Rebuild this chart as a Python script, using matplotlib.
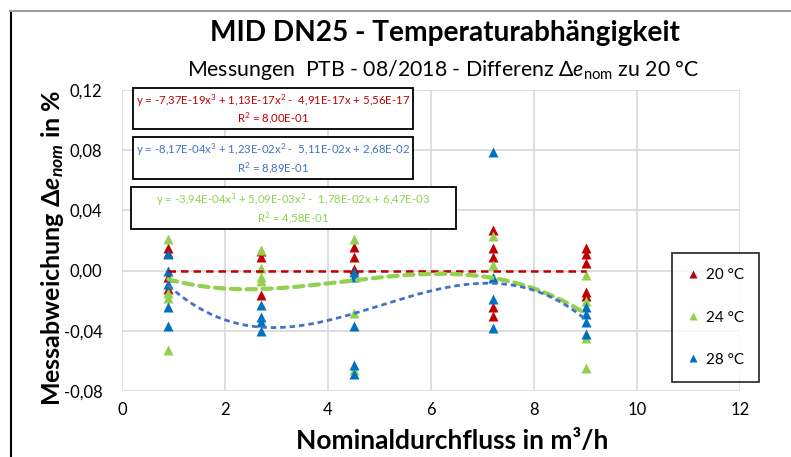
import numpy as np
import matplotlib
matplotlib.use("Agg")
import matplotlib.pyplot as plt
from matplotlib.lines import Line2D
from matplotlib.patches import Rectangle
from matplotlib.ticker import FuncFormatter

plt.rcParams['font.family'] = ['Lato', 'DejaVu Sans']
plt.rcParams['mathtext.fontset'] = 'custom'
plt.rcParams['mathtext.rm'] = 'Lato'
plt.rcParams['mathtext.it'] = 'Lato:italic'
plt.rcParams['mathtext.bf'] = 'Lato:bold'
plt.rcParams['mathtext.bfit'] = 'Lato:italic:bold'

# Messwerte (Differenz zu 20 °C in %)
x20 = [0.9, 0.9, 0.9, 0.9, 2.7, 2.7, 2.7, 4.5, 4.5, 4.5,
       7.2, 7.2, 7.2, 7.2, 7.2, 9.0, 9.0, 9.0, 9.0, 9.0]
y20 = [0.015, 0.012, -0.004, -0.012, 0.013, 0.009, -0.016, 0.016, 0.009, 0.001,
       0.027, 0.015, 0.009, -0.024, -0.030, 0.015, 0.011, 0.005, -0.014, -0.017]

x24 = [0.9, 0.9, 0.9, 0.9, 2.7, 2.7, 2.7, 2.7, 4.5, 4.5, 4.5,
       7.2, 7.2, 7.2, 9.0, 9.0, 9.0, 9.0]
y24 = [0.021, -0.015, -0.018, -0.053, 0.014, 0.002, -0.004, -0.007, 0.021, -0.028, -0.066,
       0.023, 0.004, -0.004, -0.003, -0.020, -0.045, -0.065]

x28 = [0.9, 0.9, 0.9, 0.9, 0.9, 2.7, 2.7, 2.7, 2.7, 4.5, 4.5, 4.5, 4.5, 4.5,
       7.2, 7.2, 7.2, 7.2, 9.0, 9.0, 9.0, 9.0]
y28 = [0.011, 0.000, -0.009, -0.024, -0.037, -0.023, -0.031, -0.034, -0.040,
       -0.001, -0.004, -0.037, -0.063, -0.069,
       0.079, -0.005, -0.019, -0.038, -0.024, -0.029, -0.034, -0.042]

# Trendlinien-Koeffizienten (Polynom 3. Grades, wie im Diagramm angegeben)
p20 = [-7.37e-19, 1.13e-17, -4.91e-17, 5.56e-17]
p24 = [-3.94e-04, 5.09e-03, -1.78e-02, 6.47e-03]
p28 = [-8.17e-04, 1.23e-02, -5.11e-02, 2.68e-02]

eq20 = ["y = -7,37E-19x$^3$ + 1,13E-17x$^2$ -  4,91E-17x + 5,56E-17", "R$^2$ = 8,00E-01"]
eq28 = ["y = -8,17E-04x$^3$ + 1,23E-02x$^2$ -  5,11E-02x + 2,68E-02", "R$^2$ = 8,89E-01"]
eq24 = ["y = -3,94E-04x$^3$ + 5,09E-03x$^2$ -  1,78E-02x + 6,47E-03", "R$^2$ = 4,58E-01"]

rot = '#C00000'
gruen = '#92D050'
blau = '#0070C0'
blau_trend = '#4472C4'

W, H = 791, 457
fig = plt.figure(figsize=(W / 100, H / 100), dpi=100)
ax = fig.add_axes([122 / W, 1 - 391 / H, (740 - 122) / W, (391 - 90) / H])

ax.plot(x20, y20, '^', color=rot, ms=7, mec='none', label='20 °C')
ax.plot(x24, y24, '^', color=gruen, ms=7, mec='none', label='24 °C')
ax.plot(x28, y28, '^', color=blau, ms=7, mec='none', label='28 °C')

xt = np.linspace(min(x20), max(x20), 200)
ax.plot(xt, np.polyval(p20, xt), color=rot, lw=1.8, ls=(0, (3, 2)))
ax.plot(xt, np.polyval(p24, xt), color=gruen, lw=3, ls=(0, (2.2, 1.6)), dash_capstyle='round')
ax.plot(xt, np.polyval(p28, xt), color=blau_trend, lw=2, ls=(0, (2, 1.4)))

ax.set_xlim(0, 12)
ax.set_ylim(-0.08, 0.12)
ax.set_xticks(np.arange(0, 13, 2))
ax.set_yticks(np.arange(-0.08, 0.121, 0.04))
ax.yaxis.set_major_formatter(FuncFormatter(lambda v, p: f"{v:.2f}".replace('.', ',').replace('-0,00', '0,00')))
ax.grid(True, color='#d9d9d9', lw=1.2)
ax.set_axisbelow(True)
for s in ax.spines.values():
    s.set_visible(False)
ax.tick_params(length=0, labelsize=12, pad=8)
ax.tick_params(axis='y', pad=14)

ax.set_xlabel("Nominaldurchfluss in m³/h", fontsize=19, fontweight='bold', va='center')
ax.xaxis.set_label_coords(0.534, -0.166)
ax.set_ylabel(r"Messabweichung $\mathbf{\Delta}\mathbfit{e_{nom}}$ in %", fontsize=18,
              fontweight='bold', va='center')
ax.yaxis.set_label_coords(-0.113, 0.475)

fig.text(445 / W, 1 - 33 / H, "MID DN25 - Temperaturabhängigkeit", fontsize=20.2,
         fontweight='bold', ha='center', va='center')
fig.text(443 / W, 1 - 70 / H, r"Messungen  PTB - 08/2018 - Differenz $\Delta e_{\mathrm{nom}}$ zu 20 °C",
         fontsize=15.3, ha='center', va='center')

# Gleichungsboxen
boxen = [(133, 88, 413, 129, eq20, rot), (133, 137, 413, 179, eq28, blau_trend),
         (131, 187, 456, 229, eq24, gruen)]
for x0, y0, x1, y1, txt, c in boxen:
    fig.patches.append(Rectangle((x0 / W, 1 - y1 / H), (x1 - x0) / W, (y1 - y0) / H,
                                 transform=fig.transFigure, fill=True, fc='white',
                                 ec='black', lw=1.3, zorder=5))
    fig.text((x0 + x1) / 2 / W, 1 - (y0 + 13) / H, txt[0], color=c, fontsize=8.2,
             ha='center', va='center', zorder=6)
    fig.text((x0 + x1) / 2 / W, 1 - (y1 - 11) / H, txt[1], color=c, fontsize=8.2,
             ha='center', va='center', zorder=6)

leg = ax.legend(loc='upper left', bbox_to_anchor=(672 / W, 1 - 253 / H),
                bbox_transform=fig.transFigure, frameon=True, fancybox=False,
                edgecolor='black', fontsize=11, labelspacing=1.85, handlelength=0.8,
                handletextpad=0.4, borderpad=1.0, markerscale=0.85, borderaxespad=0)
leg.get_frame().set_linewidth(1.3)

# Rahmen
fig.add_artist(Line2D([10.5 / W, 10.5 / W], [0, 1 - 11 / H], color='black', lw=1.5))
fig.add_artist(Line2D([10 / W, 1], [1 - 11 / H, 1 - 11 / H], color='#a0a0a0', lw=1.5))

fig.savefig("out.png", dpi=100)
